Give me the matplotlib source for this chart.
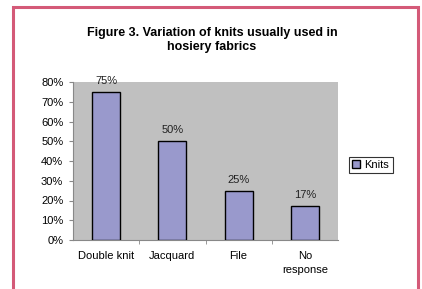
import matplotlib
matplotlib.use("Agg")
import matplotlib.pyplot as plt
from matplotlib.patches import Rectangle

categories = ["Double knit", "Jacquard", "File", "No\nresponse"]
values = [75, 50, 25, 17]
yticks = [0, 10, 20, 30, 40, 50, 60, 70, 80]
series_name = "Knits"
title = "Figure 3. Variation of knits usually used in\nhosiery fabrics"

plt.rcParams['font.family'] = ['Liberation Sans', 'DejaVu Sans']

W, H = 422, 289
fig = plt.figure(figsize=(W / 100, H / 100), dpi=100)
fig.patch.set_facecolor("white")

# pink outer frame
fig.patches.append(Rectangle((13 / W, -0.1), (418 - 13) / W, 1.1 - 7 / H,
                             transform=fig.transFigure, fill=False,
                             edgecolor="#d45a78", linewidth=2.2))

left, right, top, bottom = 73, 338, 82, 240
ax = fig.add_axes([left / W, 1 - bottom / H, (right - left) / W, (bottom - top) / H])
ax.set_facecolor("#c0c0c0")

x = list(range(len(categories)))
bars = ax.bar(x, values, width=0.42, color="#9999cc", edgecolor="black",
              linewidth=1.0, label=series_name, zorder=3)
for xi, v in zip(x, values):
    ax.text(xi, v + 3, f"{v}%", ha="center", va="bottom", fontsize=8, color="#222222")

ax.set_xlim(-0.5, len(categories) - 0.5)
ax.set_ylim(0, 80)
ax.set_yticks(yticks)
ax.set_yticklabels([f"{t}%" for t in yticks], fontsize=8)
ax.set_xticks(x)
ax.set_xticklabels(categories, fontsize=8, linespacing=1.5)
ax.tick_params(axis="x", length=0, pad=8)
ax.set_xticks([i + 0.5 for i in range(len(categories) - 1)], minor=True)
ax.tick_params(axis="x", which="minor", length=3, color="#888888")
ax.tick_params(axis="y", length=3, color="#888888", pad=4)
for s in ["top", "right"]:
    ax.spines[s].set_visible(False)
ax.spines["left"].set_color("#888888")
ax.spines["bottom"].set_color("#888888")

fig.text(212 / W, 1 - 27 / H, title, ha="center", va="top", fontsize=9,
         fontweight="bold", linespacing=1.25)

leg = fig.legend(handles=[bars], labels=[series_name], loc="center left",
                 bbox_to_anchor=(349 / W, 1 - 165 / H), fontsize=8,
                 frameon=True, fancybox=False, handlelength=0.7, handleheight=0.7,
                 handletextpad=0.4, borderpad=0.3, borderaxespad=0)
leg.get_frame().set_edgecolor("black")
leg.get_frame().set_linewidth(0.8)

fig.savefig("out.png", dpi=100)
